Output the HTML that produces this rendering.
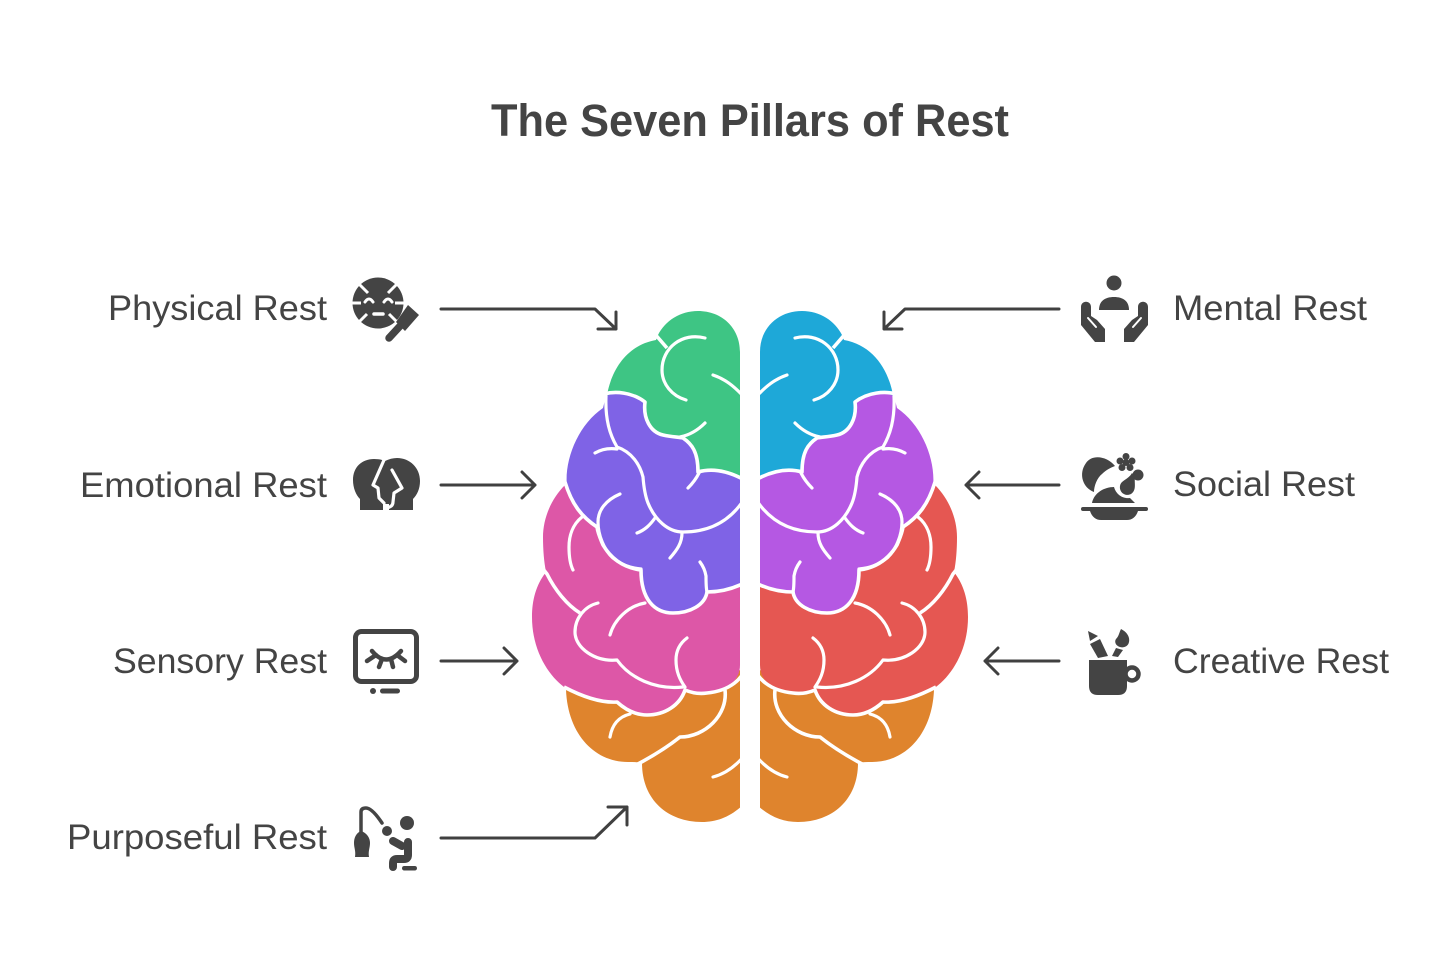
<!DOCTYPE html>
<html><head><meta charset="utf-8"><style>
html,body{margin:0;padding:0;background:#fff}
svg{display:block}
text{font-family:"Liberation Sans",sans-serif;fill:#444}
.l{font-size:35px}
.a{fill:none;stroke:#404040;stroke-width:3;stroke-linecap:round;stroke-linejoin:round}
.w{fill:none;stroke:#fff;stroke-width:3.2;stroke-linecap:round;stroke-linejoin:round}
.b{fill:none;stroke:#fff;stroke-width:3.6;stroke-linecap:butt;stroke-linejoin:round}
.i{fill:#444}
.s{fill:none;stroke:#444;stroke-linecap:round;stroke-linejoin:round}
</style></head><body>
<svg width="1456" height="960" viewBox="0 0 1456 960" xmlns="http://www.w3.org/2000/svg">
<defs>
<clipPath id="c"><rect x="500" y="300" width="240" height="540"/></clipPath>
<g id="h" clip-path="url(#c)">
<path style="fill:var(--o)" d="M566 680C564 730 592 762 628 762C633 762 638 762 642 763C642 800 668 822 702 822C718 822 732 816 745 803V670Z"/>
<path style="fill:var(--p)" d="M565 485C550 500 543 520 543 537C543 550 544 562 546 572C536 585 532 600 532 617C532 652 550 678 567 689C585 698 602 703 617 702C628 712 638 715 647 715C665 715 680 705 685 690C692 693 700 694 707 693C728 691 740 680 740 665V570H640Z"/>
<path style="fill:var(--g)" d="M740 490V352C740 328 722 311 698 311C680 311 665 321 658 335L656 340C628 345 612 368 607 395L640 470Z"/>
<path style="fill:var(--b)" d="M606 396C615 392 632 392 645 402C643 418 650 432 663 435C672 437 678 437 683 438C692 444 698 452 698 472C712 468 728 470 745 480V584C732 590 718 592 707 592C705 605 690 613 673 613C655 613 642 600 641 570C625 568 612 560 603 545C601 540 598 534 597 527C582 517 572 505 567 487C564 460 578 425 603 408Z"/>
<!-- region boundaries -->
<path class="b" d="M604 394C615 391 632 392 645 402C643 418 650 432 663 435C672 437 678 437 683 438C692 444 698 452 698 472C712 468 728 470 748 482"/>
<path class="b" d="M565 482C572 505 582 517 597 527C598 534 601 540 603 545C612 560 625 568 641 570C641 600 655 613 673 613C690 613 705 605 707 592C718 592 732 590 748 581"/>
<path class="b" d="M564 687C585 698 602 703 617 702C628 712 638 715 647 715C665 715 680 705 685 690C692 693 700 694 707 693C728 691 745 680 748 660"/>
<path class="b" d="M636 765C655 755 670 745 680 737C705 737 728 715 725 690"/>
<path class="b" d="M654 333L667 348"/>
<path class="b" d="M543 569L547 574C555 590 567 605 580 613"/>
<!-- folds -->
<path class="w" d="M610 737C612 725 618 717 630 714"/>
<path class="w" d="M713 777C725 774 735 767 745 755"/>
<path class="w" d="M582 517C572 525 569 537 569 547C569 556 570 564 573 570"/>
<path class="w" d="M598 603C585 606 575 618 575 632C575 648 595 662 617 660C630 678 655 690 683 687"/>
<path class="w" d="M610 635C614 620 628 606 645 603"/>
<path class="w" d="M687 638C679 644 676 652 676 660C676 672 680 680 685 687"/>
<path class="w" d="M705 338C682 332 662 348 662 370C662 384 672 396 686 400"/>
<path class="w" d="M713 375C725 379 734 386 745 398"/>
<path class="w" d="M705 423C698 430 690 435 680 437"/>
<path class="w" d="M606 396C605 420 610 435 617 447C632 452 640 465 643 477C644 490 646 498 648 503C655 520 668 532 683 532C708 532 730 522 745 498"/>
<path class="w" d="M595 453C602 449 610 448 617 449"/>
<path class="w" d="M620 494C606 500 598 510 598 522C598 535 604 550 613 558C622 565 630 568 641 569"/>
<path class="w" d="M637 533C645 530 650 525 655 518"/>
<path class="w" d="M670 558C677 550 682 543 682 533"/>
<path class="w" d="M700 562C703 566 705 570 706 576C706 582 706 588 707 592"/>
<path class="w" d="M688 488C692 484 696 479 699 473"/>
</g>
</defs>

<text x="491" y="136" font-size="45" font-weight="bold" textLength="518" lengthAdjust="spacingAndGlyphs">The Seven Pillars of Rest</text>

<text class="l" x="108" y="320" textLength="219" lengthAdjust="spacingAndGlyphs">Physical Rest</text>
<text class="l" x="80" y="497" textLength="247" lengthAdjust="spacingAndGlyphs">Emotional Rest</text>
<text class="l" x="113" y="673" textLength="214" lengthAdjust="spacingAndGlyphs">Sensory Rest</text>
<text class="l" x="67" y="849" textLength="260" lengthAdjust="spacingAndGlyphs">Purposeful Rest</text>
<text class="l" x="1173" y="320" textLength="194" lengthAdjust="spacingAndGlyphs">Mental Rest</text>
<text class="l" x="1173" y="496" textLength="182" lengthAdjust="spacingAndGlyphs">Social Rest</text>
<text class="l" x="1173" y="673" textLength="216" lengthAdjust="spacingAndGlyphs">Creative Rest</text>

<!-- brain -->
<use href="#h" style="--g:#3EC584;--b:#7F63E6;--p:#DD57A7;--o:#DF842D"/>
<g transform="translate(1500,0) scale(-1,1)"><use href="#h" style="--g:#1EA8D8;--b:#B558E3;--p:#E55752;--o:#DF842D"/></g>

<!-- arrows -->
<path class="a" d="M441 309H595L616 329M616 312V329H598"/>
<path class="a" d="M441 485H535M522 472L535 485L522 498"/>
<path class="a" d="M441 661H517M504 648L517 661L504 674"/>
<path class="a" d="M441 838H595L627 807M608 807H627V825"/>
<path class="a" d="M1059 309H905L884 329M884 312V329H902"/>
<path class="a" d="M1059 485H966M979 472L966 485L979 498"/>
<path class="a" d="M1059 661H985M998 648L985 661L998 674"/>

<!-- physical -->
<circle class="i" cx="378" cy="303" r="25.500"/>
<path class="b" style="stroke-width:3" d="M358 283L368 293M398 283L388 293M351 303H361M395 303H405M358 323L367 314M398 323L389 314"/>
<path class="w" style="stroke-width:3" d="M365 302Q369 296 373 302M384 302Q388 296 392 302"/>
<path class="w" style="stroke-width:3.5" d="M374 314H383"/>
<path class="i" d="M408 305L419 315L405 331L396 322Z"/>
<path class="s" stroke-width="7.500" d="M389 338L401 325"/>

<!-- emotional -->
<path class="i" d="M353 480C353 467 362 459 374 459C379 459 383 460 385 461C389 459 393 458 397 458C410 458 420 468 420 481C420 489 417 495 413 499V510H389V504L383 504V510H360V499C356 495 353 488 353 480Z"/>
<path class="w" style="stroke-width:3.2" stroke-linecap="butt" d="M384 460L373 485L378 488L379 498L384 503"/>
<path class="w" style="stroke-width:3.2" d="M392 470L402 488L394 493L393 502C393 506 390 507 387 508V511"/>
<path d="M383 504H389V511H383Z" fill="#fff"/>

<!-- sensory -->
<rect x="355.500" y="631.500" width="61" height="50" rx="6" fill="none" stroke="#444" stroke-width="5"/>
<circle class="i" cx="373" cy="691" r="3"/>
<rect class="i" x="380" y="688.500" width="20" height="5" rx="2.500"/>
<path class="s" stroke-width="4.500" d="M372 651Q386 668 401 651M376 655L367 661M382 659L379 667M391 659L393 667M397 655L405 661"/>

<!-- purposeful -->
<path class="s" stroke-width="3.500" d="M361 835V812Q361 808 366 808Q372 808 382 823"/>
<path class="i" d="M361 831C367 833 370 838 370 843C370 848 368 851 369 857H355C356 851 354 848 354 843C354 838 356 833 361 831Z"/>
<circle class="i" cx="387" cy="831" r="5"/>
<circle class="i" cx="407" cy="823" r="7"/>
<path class="s" stroke-width="8" d="M393 841L402 846M408 842V855Q408 859 404 859H397Q393 859 393 863V867"/>
<rect class="i" x="402" y="866" width="15" height="4.500" rx="2.200"/>

<!-- mental -->
<circle class="i" cx="1114" cy="283" r="7.500"/>
<path class="i" d="M1099 310C1099 301 1105 297 1114 297C1123 297 1129 301 1129 310Z"/>
<path class="i" d="M1081 307C1081 300 1091 300 1091 307V316L1097 320L1105 329V342H1095L1081 325Z"/>
<path class="w" style="stroke-width:2" d="M1088 318L1096 327"/>
<path class="i" d="M1148 307C1148 300 1138 300 1138 307V316L1132 320L1124 329V342H1134L1148 325Z"/>
<path class="w" style="stroke-width:2" d="M1141 318L1133 327"/>

<!-- social -->
<path class="i" d="M1115 466C1107 456 1092 454 1086 463C1078 474 1083 488 1094 492C1094 486 1097 478 1102 474C1106 470 1110 468 1115 466Z"/>
<circle class="i" cx="1126" cy="456.500" r="3.500"/><circle class="i" cx="1132" cy="461" r="3.500"/><circle class="i" cx="1130" cy="467.500" r="3.500"/><circle class="i" cx="1122" cy="467.500" r="3.500"/><circle class="i" cx="1120" cy="461" r="3.500"/><circle class="i" cx="1126" cy="462.500" r="3.500"/>
<path class="i" d="M1092 503C1094 493 1104 487 1114 487C1116 494 1122 499 1130 498L1135 503Z"/>
<circle class="i" cx="1138" cy="475" r="5.500"/>
<path class="i" d="M1135 477C1134 483 1137 490 1131 494C1125 497 1119 492 1120 486C1121 480 1128 480 1132 473Z"/>
<path class="s" stroke-width="4" d="M1083 509H1146"/>
<path class="i" d="M1090 511H1138C1136 517 1132 520 1127 520H1101C1096 520 1092 517 1090 511Z"/>

<!-- creative -->
<path class="i" d="M1089 660H1127V686Q1127 695 1118 695H1098Q1089 695 1089 686Z"/>
<circle cx="1132" cy="674" r="6.500" fill="none" stroke="#444" stroke-width="4.500"/>
<path class="i" d="M1090 644L1100 639L1108 656L1098 658Z"/>
<path class="i" d="M1088 631L1098 636L1090 641Z"/>
<path class="i" d="M1121 629C1127 632 1130 637 1129 642C1128 647 1123 648 1120 647C1116 646 1114 642 1116 639C1119 636 1119 633 1121 629Z"/>
<path class="i" d="M1116 648L1123 650L1118 657L1112 656Z"/>
</svg>
</body></html>
